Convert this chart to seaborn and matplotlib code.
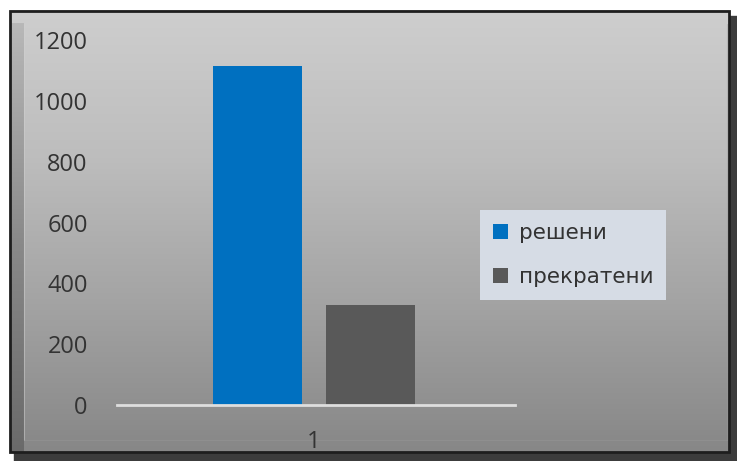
import numpy as np
import pandas as pd
import seaborn as sns
import matplotlib.pyplot as plt
from matplotlib.colors import LinearSegmentedColormap
from matplotlib.patches import Rectangle

# chart values
categories = ['решени', 'прекратени']
values = [1115, 330]
group_label = ['1', '1']
bar_colors = ['#0070c0', '#595959']
y_ticks = [0, 200, 400, 600, 800, 1000, 1200]

df = pd.DataFrame({'group': group_label, 'status': categories, 'value': values})

sns.set_style('white')
plt.rcParams['font.family'] = ['Open Sans', 'DejaVu Sans']

W, H = 737, 461
fig = plt.figure(figsize=(W / 100, H / 100), dpi=100)
fig.patch.set_facecolor('white')

# frame / gradient background in pixel coordinates
bg = fig.add_axes([0, 0, 1, 1])
bg.set_xlim(0, W)
bg.set_ylim(H, 0)
bg.axis('off')
bg.add_patch(Rectangle((14, 16), W - 14, H - 16, color='#3c3c3c', zorder=0))
grad = np.linspace(0, 1, 256).reshape(-1, 1)
bg.imshow(grad, cmap=LinearSegmentedColormap.from_list(
    'g', ['#cecece', '#bdbdbd', '#a3a3a3', '#878787']),
    extent=(10, 729, 452, 11), aspect='auto', zorder=1)
# left bevel strip
bg.imshow(grad, cmap=LinearSegmentedColormap.from_list(
    'b', ['#b8b8b8', '#8a8a8a', '#6a6a6a']),
    extent=(11, 24, 452, 24), aspect='auto', zorder=2)
bg.plot([24, 24], [24, 440], color='#d0d0d0', lw=0.8, alpha=0.5, zorder=3)
bg.plot([24, 727], [440, 440], color='#9a9a9a', lw=0.8, alpha=0.4, zorder=3)
bg.plot([727, 727], [24, 440], color='#9a9a9a', lw=0.8, alpha=0.4, zorder=3)
bg.add_patch(Rectangle((10, 11), 719, 441, fill=False, edgecolor='#1e1e1e', lw=2, zorder=4))

# main chart
ax = fig.add_axes([117 / W, 1 - 405 / H, 398 / W, 365 / H])
ax.patch.set_alpha(0)
sns.barplot(data=df, x='group', y='value', hue='status', palette=bar_colors,
            width=0.566, gap=0.205, saturation=1, linewidth=0, ax=ax)
ax.set_xlim(-0.495, 0.505)
ax.set_ylim(0, 1200)
ax.set_yticks(y_ticks)
ax.set_xlabel('')
ax.set_ylabel('')
for s in ['top', 'right', 'left']:
    ax.spines[s].set_visible(False)
ax.spines['bottom'].set_color('#dedede')
ax.spines['bottom'].set_linewidth(2)
ax.tick_params(axis='y', length=0, pad=21, labelsize=17, labelcolor='#333333')
ax.tick_params(axis='x', length=0, pad=18, labelsize=17, labelcolor='#333333')

leg = ax.legend(loc='upper left', bbox_to_anchor=(480 / W, 1 - 210 / H),
                bbox_transform=fig.transFigure, frameon=True, fancybox=False,
                borderaxespad=0, handlelength=0.7, handleheight=0.7,
                handletextpad=0.5, labelspacing=1.1, borderpad=0.6,
                prop={'family': 'DejaVu Sans', 'size': 15.5})
leg.get_frame().set_facecolor('#d6dce5')
leg.get_frame().set_edgecolor('none')
leg.get_frame().set_alpha(1)
for t in leg.get_texts():
    t.set_color('#333333')

fig.savefig('out.png', dpi=100)
